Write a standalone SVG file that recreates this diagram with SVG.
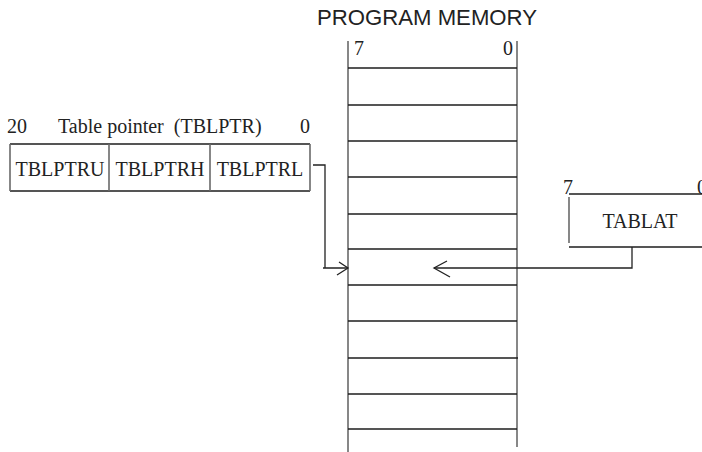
<svg xmlns="http://www.w3.org/2000/svg" width="702" height="452" viewBox="0 0 702 452">
<style>
.sans{font-family:"Liberation Sans",Arial,sans-serif;fill:#222}
.serif{font-family:"Liberation Serif","Times New Roman",serif;fill:#222;font-size:20px}
.h{stroke:#1e1e1e;stroke-width:1.4;fill:none}
.v{stroke:#6a6a6a;stroke-width:1.6;fill:none}
.c{stroke:#222;stroke-width:1.3;fill:none}
</style>
<rect width="702" height="452" fill="#fff"/>
<g id="program-memory">
<text class="sans" x="317" y="25" font-size="21.5" textLength="220" lengthAdjust="spacingAndGlyphs">PROGRAM MEMORY</text>
<text class="serif" x="354" y="55">7</text>
<text class="serif" x="503" y="55">0</text>
<path class="v" d="M348,41 V452 M517,41 V447"/>
<path class="h" d="M348,68 H517 M348,105 H517 M348,141 H517 M348,177 H517 M348,214 H517 M348,249 H517 M348,285 H517 M348,321 H517 M348,358 H518 M348,394 H517 M348,429 H517"/>
</g>
<g id="tblptr">
<text class="serif" x="7" y="133">20</text>
<text class="serif" x="58" y="133" xml:space="preserve" style="white-space:pre">Table pointer  (TBLPTR)</text>
<text class="serif" x="300" y="133">0</text>
<path class="h" d="M10,144 H310 M10,191 H310"/>
<path class="v" d="M10,144 V191 M109,144 V191 M210,144 V191 M310,144 V191"/>
<text class="serif" x="60" y="176" text-anchor="middle">TBLPTRU</text>
<text class="serif" x="160" y="176" text-anchor="middle">TBLPTRH</text>
<text class="serif" x="260" y="176" text-anchor="middle">TBLPTRL</text>
</g>
<g id="tablat">
<text class="serif" x="563" y="194">7</text>
<text class="serif" x="697" y="194">0</text>
<path class="h" d="M569,194 H702 M569,247 H702"/>
<path class="v" d="M569,197 V243"/>
<text class="serif" x="640" y="228" text-anchor="middle">TABLAT</text>
</g>
<g id="connectors">
<path class="c" d="M313,165 H325 V268 M323,268 H348"/>
<path class="c" d="M339,262 L348,268 L337,275"/>
<path class="c" d="M632,247 V268 H434"/>
<path class="c" d="M447,261 L434,268 L450,277"/>
</g>
</svg>
